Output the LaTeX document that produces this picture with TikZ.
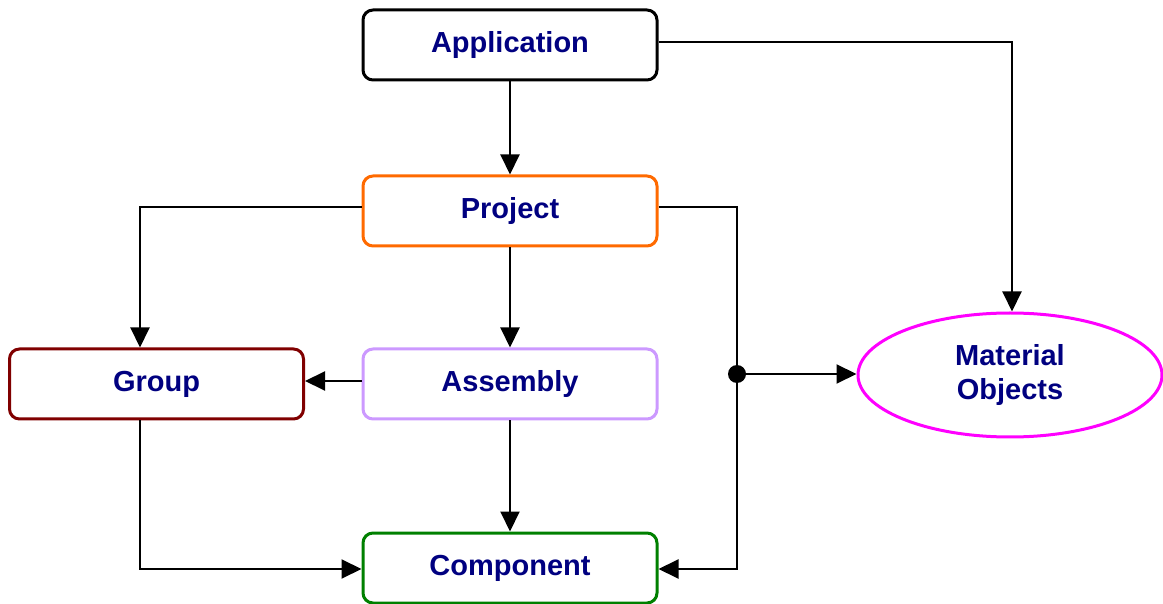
\documentclass[tikz,border=0pt]{standalone}
\usepackage{fontspec}
\setmainfont{Liberation Sans}
\usetikzlibrary{arrows.meta,shapes.geometric}
\definecolor{navy}{HTML}{000080}
\definecolor{projorange}{HTML}{FF6A00}
\definecolor{grpred}{HTML}{800000}
\definecolor{asmlilac}{HTML}{CC99FF}
\definecolor{compgreen}{HTML}{008000}
\definecolor{matmagenta}{HTML}{FF00FF}

\begin{document}
\begin{tikzpicture}[x=0.5pt,y=-0.5pt,
    box/.style={draw,line width=1.5pt,rounded corners=5pt,minimum width=147pt,
      minimum height=35pt,inner sep=0pt,text=navy,
      font=\bfseries\fontsize{14.5}{17}\selectfont},
    arr/.style={-{Triangle[length=10pt,width=9.5pt]},line width=1pt}]
  \useasboundingbox (0,0) rectangle (1163,604);
  \node[box] (app) at (510,45) {Application};
  \node[box,draw=projorange] (proj) at (510,211) {Project};
  \node[box,draw=grpred] (grp) at (156.5,384) {Group};
  \node[box,draw=asmlilac] (asm) at (510,384) {Assembly};
  \node[box,draw=compgreen] (comp) at (510,568) {Component};
  \node[box,ellipse,rounded corners=0pt,draw=matmagenta,minimum width=152pt,
    minimum height=62pt,align=center] (mat) at (1010,375) {Material\\Objects};
  \coordinate (bus) at (737,374);
  \draw[arr] (app) -- (proj);
  \draw[arr] ([yshift=1.5pt]app.east) -| ([xshift=1pt]mat.north);
  \draw[arr] ([yshift=2pt]proj.west) -| ([xshift=-8.25pt]grp.north);
  \draw[arr] (proj) -- (asm);
  \draw[arr] ([yshift=1.5pt]asm.west) -- ([yshift=1.5pt]grp.east);
  \draw[arr] (asm) -- (comp);
  \draw[arr] ([xshift=-8.25pt]grp.south) |- ([yshift=-0.5pt]comp.west);
  \draw[arr] ([yshift=2pt]proj.east) -| (bus) |- ([yshift=-0.5pt]comp.east);
  \fill (bus) circle (4.5pt);
  \draw[arr] (bus) -- (bus -| mat.west);
\end{tikzpicture}
\end{document}
